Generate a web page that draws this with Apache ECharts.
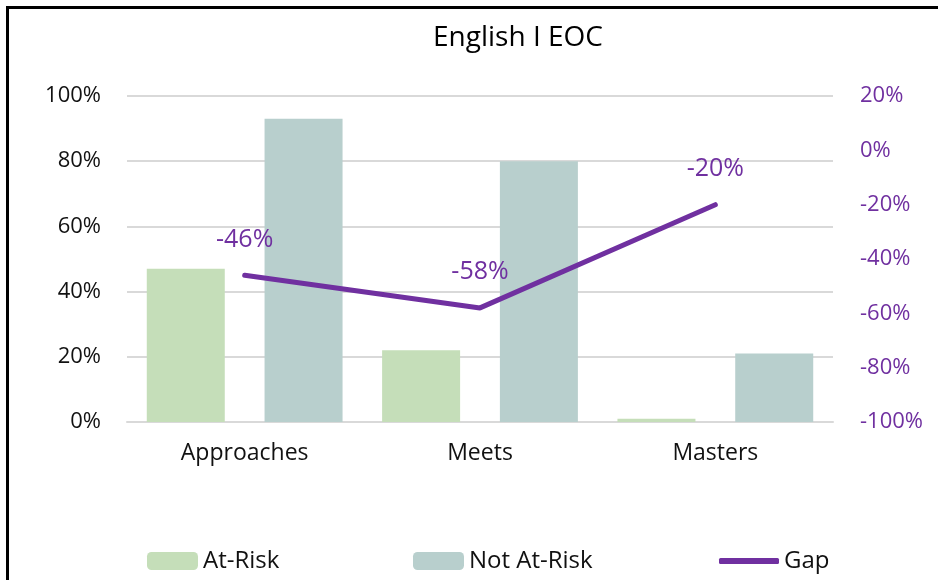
<!DOCTYPE html>
<html>
<head>
<meta charset="utf-8">
<script src="https://cdn.jsdelivr.net/npm/echarts@6/dist/echarts.min.js"></script>
<style>
html,body{margin:0;padding:0;background:#fff;}
#chart{width:938px;height:580px;}
</style>
</head>
<body>
<div id="chart"></div>
<script>
const categories = ['Approaches', 'Meets', 'Masters'];
const atRisk = [47, 22, 1];
const notAtRisk = [93, 80, 21];
const gap = [-46, -58, -20];
const leftTicks = {min: 0, max: 100, interval: 20};
const rightTicks = {min: -100, max: 20, interval: 20};

const FONT = '"Open Sans", "Noto Sans", sans-serif';
const PURPLE = '#7030a0';
const TXT = '#111';
const chart = echarts.init(document.getElementById('chart'), null, {renderer: 'canvas'});
chart.setOption({
  animation: false,
  backgroundColor: '#fff',
  textStyle: {fontFamily: FONT},
  graphic: [{
    type: 'rect', left: 5, top: 5,
    shape: {x: 0, y: 0, width: 960, height: 620},
    style: {fill: 'none', stroke: '#000', lineWidth: 3},
    silent: true, z: 100
  }],
  title: {
    text: 'English I EOC',
    left: 513, top: 19, textAlign: 'center',
    textStyle: {fontFamily: FONT, fontSize: 28, fontWeight: 'normal', color: '#000'}
  },
  legend: [
    {data: ['At-Risk'], left: 142, top: 544, itemWidth: 51, itemHeight: 18,
     textStyle: {fontFamily: FONT, fontSize: 24, color: TXT}},
    {data: ['Not At-Risk'], left: 408, top: 544, itemWidth: 51, itemHeight: 18,
     textStyle: {fontFamily: FONT, fontSize: 24, color: TXT}},
    {data: [{name: 'Gap', icon: 'roundRect'}], left: 714, top: 544, itemWidth: 60, itemHeight: 6,
     textStyle: {fontFamily: FONT, fontSize: 24, color: TXT}}
  ],
  grid: {left: 127, right: 105, top: 96, bottom: 158, containLabel: false},
  xAxis: {
    type: 'category', data: categories,
    axisLine: {show: true, lineStyle: {color: '#d9d9d9', width: 2}},
    axisTick: {show: false},
    axisLabel: {fontFamily: FONT, fontSize: 23, color: TXT, margin: 20}
  },
  yAxis: [
    {
      type: 'value', min: leftTicks.min, max: leftTicks.max, interval: leftTicks.interval,
      axisLine: {show: false}, axisTick: {show: false},
      splitLine: {show: true, lineStyle: {color: '#d9d9d9', width: 2}},
      axisLabel: {formatter: '{value}%', fontFamily: FONT, fontSize: 22, color: TXT, margin: 26}
    },
    {
      type: 'value', min: rightTicks.min, max: rightTicks.max, interval: rightTicks.interval,
      position: 'right',
      axisLine: {show: false}, axisTick: {show: false}, splitLine: {show: false},
      axisLabel: {formatter: '{value}%', fontFamily: FONT, fontSize: 22, color: PURPLE, margin: 27}
    }
  ],
  series: [
    {name: 'At-Risk', type: 'bar', data: atRisk, barWidth: 78, barGap: '51%',
     itemStyle: {color: '#c5deb9'}},
    {name: 'Not At-Risk', type: 'bar', data: notAtRisk, barWidth: 78, barGap: '51%',
     itemStyle: {color: '#b8cfcd'}},
    {name: 'Gap', type: 'line', yAxisIndex: 1, data: gap,
     showSymbol: true, symbol: 'circle', symbolSize: 0.1,
     lineStyle: {color: PURPLE, width: 5, cap: 'round'},
     itemStyle: {color: PURPLE},
     label: {show: true, position: 'top', distance: 23, formatter: '{c}%',
             fontFamily: FONT, fontSize: 25, color: PURPLE},
     z: 5}
  ]
});
</script>
</body>
</html>
